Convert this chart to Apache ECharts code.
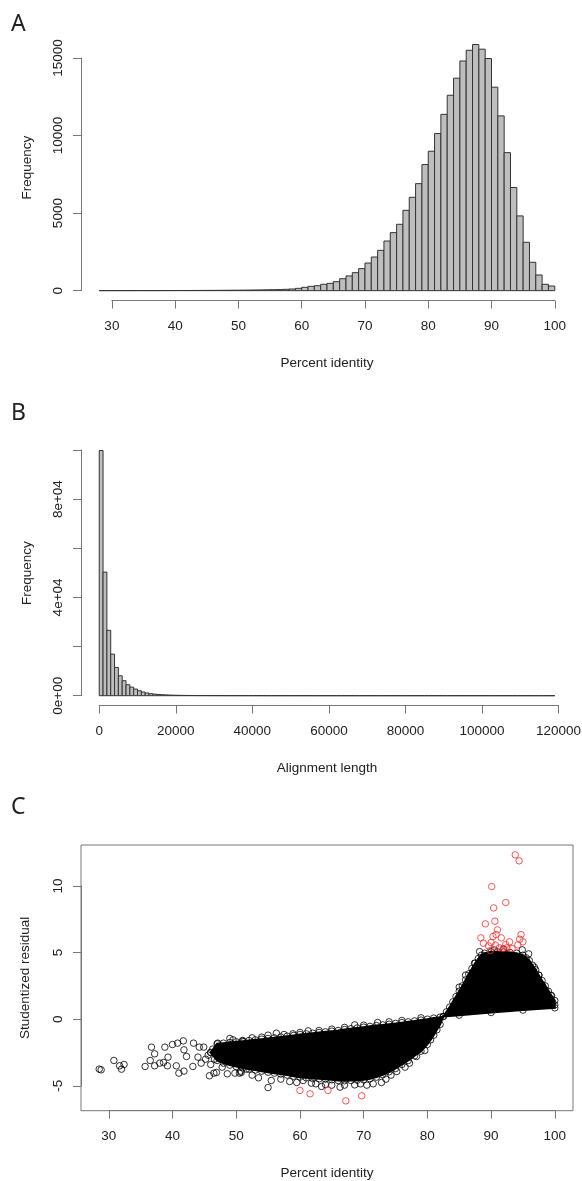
<!DOCTYPE html>
<html>
<head>
<meta charset="utf-8">
<script src="https://cdn.jsdelivr.net/npm/echarts@6/dist/echarts.min.js"></script>
<style>
html,body{margin:0;padding:0;background:#fff;}
#chart{width:582px;height:1181px;}
</style>
</head>
<body>
<div id="chart"></div>
<script>
// ---------------- DATA ----------------
// Panel A: histogram of percent identity (1-unit bins starting at 28)
const identityBinStart = 28;
const identityBinWidth = 1;
const identityCounts = [
  2, 2, 3, 3, 4, 4, 5, 5, 6, 7,          // 28-37
  8, 9, 10, 11, 12, 14, 16, 18, 20, 23,  // 38-47
  26, 29, 33, 37, 42, 48, 55, 62,        // 48-55
  70, 86, 107, 150, 215, 280, 320, 410, 470, 580,          // 56-65
  770, 950, 1160, 1420, 1780, 2170, 2600, 3200, 3740, 4280, // 66-75
  5180, 6020, 6900, 8130, 8990, 10130, 11370, 12600, 13700, 14810, // 76-85
  15500, 15870, 15570, 14970, 13120, 11270, 8900, 6650, 4820, 3120, // 86-95
  1830, 1010, 410, 300                   // 96-99
];
const identityTicks = [30, 40, 50, 60, 70, 80, 90, 100];
const freqTicksA = [0, 5000, 10000, 15000];
const freqTickLabelsA = ['0', '5000', '10000', '15000'];

// Panel B: histogram of alignment length (1000-bp bins starting at 0)
const lengthBinStart = 0;
const lengthBinWidth = 1000;
const lengthCounts = [
  99800, 50300, 26600, 16900, 11500, 8100, 6100, 4460, 3500, 2700,
  2000, 1500, 1100, 800, 650, 500, 400, 320, 260, 210,
  170, 140, 115, 95, 80, 68, 58, 50, 43, 37,
  32, 28, 25, 22, 19, 17, 15, 14, 12, 11,
  10, 9, 8, 8, 7, 6, 6, 5, 5, 4,
  4, 4, 3, 3, 3, 3, 2, 2, 2, 2,
  2, 2, 2, 1, 1, 1, 1, 1, 1, 1,
  1, 1, 1, 1, 0, 1, 0, 1, 1, 0,
  0, 1, 0, 0, 1, 0, 0, 0, 1, 0,
  0, 0, 1, 0, 0, 0, 0, 1, 0, 0,
  0, 0, 0, 0, 1, 0, 0, 0, 0, 0,
  0, 0, 0, 1, 0, 0, 0, 0, 1
];
const lengthTicks = [0, 20000, 40000, 60000, 80000, 100000, 120000];
const freqTicksB = [0, 20000, 40000, 60000, 80000, 100000];
const freqTickLabelsB = ['0e+00', '', '4e+04', '', '8e+04', ''];

// Panel C: studentized residual vs percent identity
// dense cloud outline (upper and lower edge of the solid black mass)
const cloudUpper = [
  [46,-2.5],[47,-1.85],[48,-1.8],[49,-1.75],[50,-1.7],[51,-1.65],[52,-1.6],[53,-1.55],[54,-1.5],[55,-1.45],
  [56,-1.4],[57,-1.34],[58,-1.28],[59,-1.22],[60,-1.15],[61,-1.1],[62,-1.05],[63,-1.0],[64,-0.95],[65,-0.9],
  [66,-0.85],[67,-0.78],[68,-0.72],[69,-0.66],[70,-0.6],[71,-0.54],[72,-0.48],[73,-0.43],[74,-0.38],[75,-0.32],
  [76,-0.26],[77,-0.2],[78,-0.13],[79,-0.07],[80,0.0],[81,0.08],[82,0.15],[82.5,0.2],[83,0.55],[83.5,0.9],
  [84,1.3],[84.5,1.7],[85,2.1],[85.5,2.5],[86,2.95],[86.5,3.4],[87,3.8],[87.5,4.2],[88,4.55],[88.5,4.8],
  [89,4.95],[90,5.05],[91,5.05],[92,5.05],[93,5.0],[94,4.95],[95,4.8],[95.5,4.6],[96,4.4],[96.5,4.05],
  [97,3.7],[97.5,3.3],[98,2.9],[98.5,2.5],[99,2.1],[99.5,1.75],[100,1.4]
];
const cloudLower = [
  [46,-2.5],[47,-3.1],[48,-3.3],[49,-3.45],[50,-3.55],[51,-3.65],[52,-3.75],[53,-3.82],[54,-3.9],[55,-3.98],
  [56,-4.05],[57,-4.12],[58,-4.2],[59,-4.28],[60,-4.35],[61,-4.4],[62,-4.45],[63,-4.48],[64,-4.5],[65,-4.55],
  [66,-4.6],[67,-4.62],[68,-4.6],[69,-4.58],[70,-4.55],[71,-4.47],[72,-4.35],[73,-4.17],[74,-3.95],[75,-3.7],
  [76,-3.4],[77,-3.1],[78,-2.75],[79,-2.4],[80,-1.9],[80.5,-1.55],[81,-1.2],[81.5,-0.8],[82,-0.4],[82.5,0.2],
  [85,0.3],[90,0.5],[95,0.68],[100,0.85]
];
// scattered (non-outlier) points outside the solid mass
const looseX = [28.5,28.8,30.8,31.7,32.0,32.4,35.7,36.5,36.7,37.2,37.2,38.0,38.6,38.8,39.2,39.3,40.0,40.6,40.8,41.0,
  41.7,41.8,41.8,42.2,43.2,43.3,44.0,44.2,44.5,44.9,45.2,45.6,45.8,46.0,46.3,46.5,46.6,46.9,47.1,47.3,
  47.5,47.8,48.3,48.6,49.5,49.8,50.5,50.7,50.8,51.0,51.1,51.6,54.0,55.0,55.5,56.3,58.4,58.9,61.3,61.8,
  63.4,66.3,68.6,68.6,71.5,72.2,72.8,75.2,78.3,79.6,85.0,86.0,87.4,88.2,90.5,92.0,94.9,95.9,96.8,97.5,
  98.1,98.6,99.4,100.0,
  52.5,53.5,57.0,59.5,60.5,62.5,64.0,65.0,67.0,69.5,70.5,73.5,74.3,76.5,77.2,
  49.0,52.5,55.0,57.5,60.0,63.0,65.0,67.0,70.0,74.0,76.0,79.0];
const looseY = [-3.75,-3.8,-3.1,-3.5,-3.75,-3.4,-3.55,-3.1,-2.1,-2.6,-3.5,-3.3,-3.25,-2.1,-3.5,-2.85,-1.9,-3.5,-1.8,-4.05,
  -1.63,-2.3,-3.9,-2.8,-3.55,-1.8,-2.85,-2.1,-3.3,-2.1,-3.0,-2.7,-4.25,-3.4,-2.25,-4.05,-3.0,-4.0,-1.8,-2.2,
  -2.6,-3.6,-2.0,-4.1,-1.55,-4.05,-4.05,-3.9,-4.0,-1.6,-1.7,-3.75,-1.35,-5.13,-4.6,-1.05,-4.68,-1.1,-0.88,-4.8,
  -5.05,-5.1,-4.93,-0.43,-4.85,-0.25,-4.75,-3.93,-2.8,-2.35,2.4,3.3,4.2,5.07,5.2,5.25,5.2,4.9,3.9,3.3,
  2.5,2.15,1.8,1.07,
  -4.2,-4.4,-4.5,-4.75,-4.6,-4.85,-4.9,-4.95,-4.95,-4.85,-4.95,-4.5,-4.2,-3.6,-3.3,
  -1.45,-1.4,-1.2,-1.15,-1.0,-0.85,-0.75,-0.62,-0.45,-0.2,-0.1,0.1];
// outliers (red)
const outlierX = [93.8,94.4,90.1,92.3,90.4,90.6,89.1,91.0,88.4,88.8,90.3,90.8,91.6,94.7,95.0,94.5,94.2,89.6,89.9,92.9,
  92.3,92.5,91.9,93.3,91.3,90.7,90.0,60.0,61.6,64.4,67.2,69.7];
const outlierY = [12.33,11.88,9.95,8.75,8.35,7.35,7.15,6.7,6.1,5.7,6.2,6.35,6.1,6.35,5.8,6.0,5.57,5.5,5.15,5.8,
  5.6,5.35,5.3,5.3,5.35,5.55,5.75,-5.35,-5.6,-5.35,-6.13,-5.75];
const residTicksX = [30, 40, 50, 60, 70, 80, 90, 100];
const residTicksY = [-5, 0, 5, 10];

// ---------------- LAYOUT ----------------
const FONT = "'Liberation Sans', Arial, Helvetica, sans-serif";
const AXIS_COLOR = '#777';
const TEXT_COLOR = '#222';
const FS = 13.5;
const PLOT_LEFT = 81, PLOT_W = 492;
const PANEL = {
  A: {top: 34.7, h: 265.8},
  B: {top: 440.7, h: 264.8},
  C: {top: 845, h: 265.7}
};
function rExt(lo, hi) { const d = (hi - lo) * 0.04; return [lo - d, hi + d]; }

const grids = [], xAxes = [], yAxes = [], series = [];

function addGrid(g) { grids.push(Object.assign({outerBoundsMode: 'none', containLabel: false}, g)); return grids.length - 1; }

const hiddenAxis = (gi, ext) => ({type: 'value', gridIndex: gi, show: false, min: ext ? ext[0] : 0, max: ext ? ext[1] : 1});

function visibleAxisStyle(extra) {
  return Object.assign({
    axisLine: {show: true, onZero: false, lineStyle: {color: AXIS_COLOR, width: 1}},
    axisTick: {show: true, inside: false, length: 8, lineStyle: {color: AXIS_COLOR, width: 1}},
    splitLine: {show: false},
    axisLabel: {color: TEXT_COLOR, fontSize: FS, fontFamily: FONT, showMinLabel: true, showMaxLabel: true, hideOverlap: false}
  }, extra);
}

// builds a panel: data grid + a grid for the visible x axis + a grid for the visible y axis
function buildPanel(p, xExt, yExt, xTicks, yTicks, xFmt, yFmt, xName, yName, yNameGap, box) {
  const top = p.top, h = p.h;
  const px = v => PLOT_LEFT + (v - xExt[0]) / (xExt[1] - xExt[0]) * PLOT_W;
  const py = v => top + h - (v - yExt[0]) / (yExt[1] - yExt[0]) * h;
  // data grid
  const gd = addGrid({left: PLOT_LEFT, width: PLOT_W, top: top, height: h,
    show: !!box, borderColor: AXIS_COLOR, borderWidth: 1, backgroundColor: 'transparent'});
  const xi = xAxes.length;
  xAxes.push({type: 'value', gridIndex: gd, min: xExt[0], max: xExt[1],
    axisLine: {show: false}, axisTick: {show: false}, axisLabel: {show: false}, splitLine: {show: false},
    name: xName, nameLocation: 'middle', nameGap: 56,
    nameTextStyle: {color: TEXT_COLOR, fontSize: FS, fontFamily: FONT}});
  yAxes.push({type: 'value', gridIndex: gd, min: yExt[0], max: yExt[1],
    axisLine: {show: false}, axisTick: {show: false}, axisLabel: {show: false}, splitLine: {show: false},
    name: yName, nameLocation: 'middle', nameGap: yNameGap,
    nameTextStyle: {color: TEXT_COLOR, fontSize: FS, fontFamily: FONT}});
  // visible x axis (spans first..last tick)
  const x0 = xTicks[0], x1 = xTicks[xTicks.length - 1];
  const gx = addGrid({left: px(x0), width: px(x1) - px(x0), top: top, height: h});
  xAxes.push(visibleAxisStyle({type: 'value', gridIndex: gx, position: 'bottom', min: x0, max: x1,
    interval: xTicks[1] - xTicks[0]}));
  xAxes[xAxes.length - 1].axisLabel.margin = 19;
  xAxes[xAxes.length - 1].axisLabel.formatter = xFmt;
  yAxes.push(hiddenAxis(gx));
  // visible y axis
  const y0 = yTicks[0], y1 = yTicks[yTicks.length - 1];
  const gy = addGrid({left: PLOT_LEFT, width: PLOT_W, top: py(y1), height: py(y0) - py(y1)});
  yAxes.push(visibleAxisStyle({type: 'value', gridIndex: gy, position: 'left', min: y0, max: y1,
    interval: yTicks[1] - yTicks[0]}));
  const ya = yAxes[yAxes.length - 1];
  ya.axisLabel.rotate = 90;
  ya.axisLabel.margin = 16;
  ya.axisLabel.formatter = yFmt;
  xAxes.push(hiddenAxis(gy));
  return xi; // index of data x axis (== data y axis index)
}

function histSeries(ai, start, width, counts) {
  return {
    type: 'custom', xAxisIndex: ai, yAxisIndex: ai, silent: true,
    data: counts.map((c, i) => [start + i * width, start + (i + 1) * width, c]),
    encode: {x: [0, 1], y: 2},
    renderItem: function (params, api) {
      const a = api.coord([api.value(0), api.value(2)]);
      const b = api.coord([api.value(1), 0]);
      return {type: 'rect', shape: {x: a[0], y: a[1], width: b[0] - a[0], height: b[1] - a[1]},
        style: {fill: '#bebebe', stroke: '#333', lineWidth: 1}};
    }
  };
}

// ---- Panel A ----
const idExt = rExt(identityBinStart, identityBinStart + identityCounts.length * identityBinWidth);
const idFreqExt = rExt(0, Math.max(...identityCounts));
const aA = buildPanel(PANEL.A, idExt, idFreqExt, identityTicks, freqTicksA,
  v => String(v), v => freqTickLabelsA[freqTicksA.indexOf(v)] || '',
  'Percent identity', 'Frequency', 47, false);
series.push(histSeries(aA, identityBinStart, identityBinWidth, identityCounts));

// ---- Panel B ----
const lenExt = rExt(lengthBinStart, lengthBinStart + lengthCounts.length * lengthBinWidth);
const lenFreqExt = rExt(0, Math.max(...lengthCounts));
const aB = buildPanel(PANEL.B, lenExt, lenFreqExt, lengthTicks, freqTicksB,
  v => String(v), v => freqTickLabelsB[freqTicksB.indexOf(v)] || '',
  'Alignment length', 'Frequency', 47, false);
series.push(histSeries(aB, lengthBinStart, lengthBinWidth, lengthCounts));

// ---- Panel C ----
const allCX = looseX.concat(outlierX, cloudUpper.map(p => p[0]), cloudLower.map(p => p[0]));
const allCY = looseY.concat(outlierY, cloudUpper.map(p => p[1]), cloudLower.map(p => p[1]));
const cxExt = rExt(Math.min(...allCX), Math.max(...allCX));
const cyExt = rExt(Math.min(...allCY), Math.max(...allCY));
const aC = buildPanel(PANEL.C, cxExt, cyExt, residTicksX, residTicksY,
  v => String(v), v => String(v),
  'Percent identity', 'Studentized residual', 49, true);

const circleStyle = (c) => ({color: 'rgba(0,0,0,0)', borderColor: c, borderWidth: 1});
series.push({
  type: 'custom', xAxisIndex: aC, yAxisIndex: aC, silent: true,
  data: [cloudUpper[0]],
  renderItem: function (params, api) {
    const pts = cloudUpper.map(p => api.coord(p)).concat(cloudLower.slice().reverse().map(p => api.coord(p)));
    return {type: 'polygon', shape: {points: pts}, style: {fill: '#000', stroke: '#000', lineWidth: 2}};
  }
});
series.push({
  type: 'scatter', xAxisIndex: aC, yAxisIndex: aC, silent: true, symbol: 'circle', symbolSize: 6.5,
  itemStyle: circleStyle('#000'),
  data: cloudUpper.concat(cloudLower, looseX.map((x, i) => [x, looseY[i]]))
});
series.push({
  type: 'scatter', xAxisIndex: aC, yAxisIndex: aC, silent: true, symbol: 'circle', symbolSize: 6.5,
  itemStyle: circleStyle('#ff2a2a'),
  data: outlierX.map((x, i) => [x, outlierY[i]])
});

const letter = (t, y) => ({type: 'text', x: 11, y: y,
  style: {text: t, fontSize: 23, fontFamily: "'Noto Sans', 'Open Sans', sans-serif", fill: '#222', verticalAlign: 'middle', align: 'left'}});

const chart = echarts.init(document.getElementById('chart'), null, {renderer: 'canvas'});
chart.setOption({
  animation: false,
  backgroundColor: '#fff',
  grid: grids,
  xAxis: xAxes,
  yAxis: yAxes,
  series: series,
  graphic: [letter('A', 24), letter('B', 413), letter('C', 807)]
});
</script>
</body>
</html>
